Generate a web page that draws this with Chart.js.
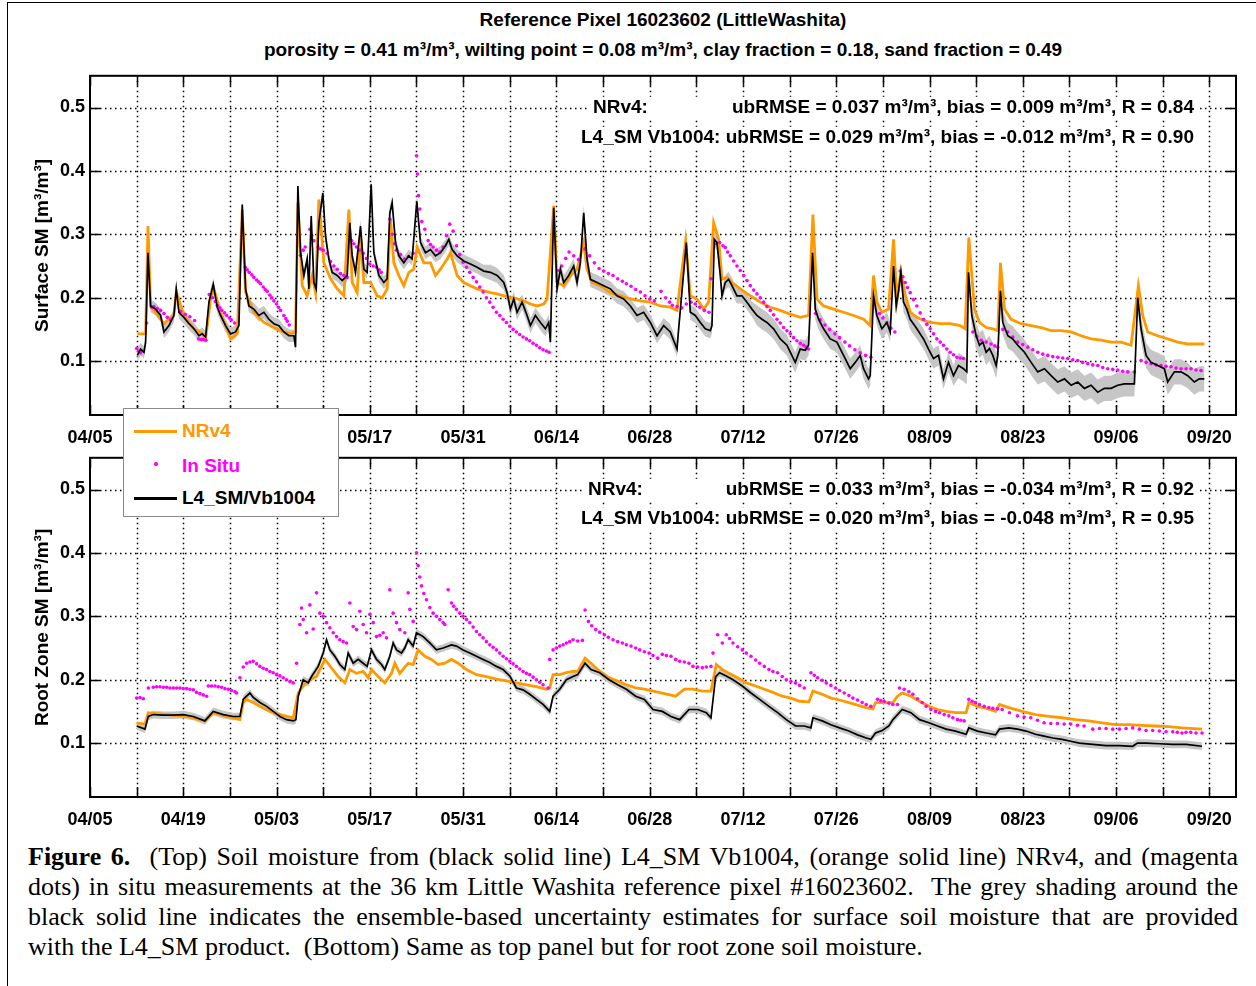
<!DOCTYPE html>
<html>
<head>
<meta charset="utf-8">
<script src="https://cdn.jsdelivr.net/npm/chart.js@4.4.1/dist/chart.umd.min.js"></script>
<style>
  html, body { margin: 0; padding: 0; background: #fff; }
  #page { position: relative; width: 1256px; height: 986px; overflow: hidden; font-family: "Liberation Sans", Arial, sans-serif; color: #000; }
  #border { position: absolute; left: 7px; top: 2px; width: 1400px; height: 1200px; border-left: 1.5px solid #000; border-top: 1.5px solid #000; }
  .head { position: absolute; left: 90px; width: 1146px; text-align: center; font-weight: bold; font-size: 19px; line-height: 22px; white-space: nowrap; }
  canvas { position: absolute; left: 0; }
  #legend { position: absolute; left: 123px; top: 408px; width: 214px; height: 107px; background: #fff; border: 1px solid #8a8a8a; z-index: 5; }
  #legend .ln { position: absolute; left: 10px; width: 43px; height: 2.5px; }
  #legend .tx { position: absolute; left: 58px; font-weight: bold; font-size: 19px; line-height: 22px; white-space: nowrap; }
  #legend .dot { position: absolute; left: 30px; width: 3.5px; height: 3.5px; border-radius: 50%; background: #ff00ff; }
  #caption { position: absolute; left: 28px; top: 842px; width: 1210px; transform-origin: 0 0; font-family: "Liberation Serif", "Times New Roman", serif; font-size: 26px; line-height: 30px; }
  #caption .j { text-align: justify; text-align-last: justify; }
  .probe { position: absolute; visibility: hidden; white-space: nowrap; font-family: "Liberation Serif", "Times New Roman", serif; font-size: 26px; }
</style>
</head>
<body>
<div id="page">
  <div id="border"></div>
  <div class="head" style="top:9px">Reference Pixel 16023602 (LittleWashita)</div>
  <div class="head" style="top:39px">porosity = 0.41 m³/m³, wilting point = 0.08 m³/m³, clay fraction = 0.18, sand fraction = 0.49</div>

  <canvas id="surface" width="1256" height="395" style="top:60px"></canvas>
  <canvas id="rootzone" width="1256" height="395" style="top:442px"></canvas>

  <div id="legend">
    <div class="ln" style="top:21px;background:#ff9900"></div>
    <div class="tx" style="top:11px;color:#ff9900">NRv4</div>
    <div class="dot" style="top:53px"></div>
    <div class="tx" style="top:46px;color:#ff00ff">In Situ</div>
    <div class="ln" style="top:88px;background:#000"></div>
    <div class="tx" style="top:78px">L4_SM/Vb1004</div>
  </div>

  <div id="caption">
    <div class="j"><b>Figure 6.</b>&nbsp; (Top) Soil moisture from (black solid line) L4_SM Vb1004, (orange solid line) NRv4, and (magenta</div>
    <div class="j">dots) in situ measurements at the 36 km Little Washita reference pixel #16023602.&nbsp; The grey shading around the</div>
    <div class="j">black solid line indicates the ensemble-based uncertainty estimates for surface soil moisture that are provided</div>
    <div>with the L4_SM product.&nbsp; (Bottom) Same as top panel but for root zone soil moisture.</div>
  </div>
</div>

<script>
// days counted from 04/05; labels every two weeks, grid every week
const xLabels = ['04/05', '04/19', '05/03', '05/17', '05/31', '06/14', '06/28', '07/12', '07/26', '08/09', '08/23', '09/06', '09/20'];
const yTicks = [0.1, 0.2, 0.3, 0.4, 0.5];

// surface soil moisture [day, m3/m3]
const surfL4 = [[7.1,0.109],[7.6,0.119],[8.1,0.114],[8.35,0.13],[8.7,0.271],[9.1,0.187],[9.85,0.182],[10.6,0.172],[11.1,0.146],[11.85,0.156],[12.6,0.172],[12.95,0.214],[13.35,0.177],[14.1,0.169],[14.85,0.159],[15.6,0.151],[16.35,0.14],[16.85,0.143],[17.35,0.138],[17.85,0.193],[18.5,0.221],[19.1,0.185],[19.6,0.172],[20.35,0.156],[21.1,0.143],[21.85,0.146],[22.35,0.156],[22.85,0.347],[23.35,0.214],[23.85,0.187],[24.6,0.182],[25.35,0.172],[26.1,0.177],[26.85,0.166],[27.6,0.159],[28.35,0.156],[29.1,0.146],[29.85,0.14],[30.6,0.14],[30.85,0.122],[31.2,0.376],[31.6,0.271],[32.1,0.235],[32.6,0.261],[32.85,0.214],[33.2,0.329],[33.6,0.224],[33.95,0.214],[34.35,0.318],[34.95,0.365],[35.35,0.297],[35.85,0.261],[36.35,0.24],[37.1,0.235],[37.85,0.227],[38.6,0.235],[39.0,0.318],[39.35,0.266],[39.85,0.24],[40.6,0.313],[41.1,0.245],[41.6,0.24],[42.2,0.379],[42.6,0.271],[43.35,0.235],[44.1,0.224],[44.6,0.23],[45.0,0.334],[45.35,0.35],[45.85,0.287],[46.35,0.266],[47.1,0.255],[47.85,0.266],[48.35,0.261],[49.05,0.352],[49.6,0.287],[50.35,0.271],[51.1,0.276],[51.85,0.266],[52.6,0.271],[53.35,0.282],[53.85,0.292],[54.35,0.276],[55.1,0.266],[56.1,0.258],[57.1,0.253],[58.1,0.248],[59.1,0.242],[60.1,0.24],[61.1,0.235],[62.1,0.224],[62.6,0.208],[63.1,0.182],[63.6,0.198],[64.1,0.177],[64.85,0.193],[65.6,0.172],[66.1,0.156],[66.85,0.172],[67.6,0.161],[68.35,0.151],[68.85,0.161],[69.1,0.13],[69.6,0.342],[70.1,0.214],[70.6,0.245],[71.1,0.224],[71.85,0.235],[72.6,0.25],[73.1,0.224],[73.6,0.255],[74.1,0.334],[74.6,0.261],[75.1,0.229],[76.1,0.224],[77.1,0.219],[78.1,0.214],[79.1,0.203],[80.1,0.198],[81.1,0.187],[82.1,0.172],[83.1,0.177],[84.1,0.161],[85.1,0.14],[86.1,0.156],[87.1,0.146],[88.1,0.119],[88.35,0.151],[89.5,0.287],[90.1,0.177],[90.85,0.172],[91.6,0.161],[92.35,0.151],[93.1,0.148],[93.35,0.156],[93.7,0.292],[94.1,0.287],[94.6,0.235],[94.85,0.203],[95.35,0.224],[95.85,0.229],[96.35,0.219],[97.1,0.203],[97.85,0.203],[98.6,0.193],[99.35,0.182],[100.1,0.172],[100.85,0.166],[101.6,0.161],[102.6,0.151],[103.6,0.135],[104.6,0.125],[105.1,0.114],[105.85,0.098],[106.6,0.119],[107.35,0.117],[107.85,0.125],[108.45,0.271],[108.85,0.182],[109.35,0.166],[110.1,0.151],[111.1,0.135],[112.1,0.13],[113.1,0.109],[114.1,0.088],[114.85,0.098],[115.6,0.109],[116.1,0.088],[116.85,0.072],[117.1,0.077],[117.6,0.203],[118.1,0.172],[118.85,0.151],[119.6,0.161],[120.1,0.146],[120.6,0.25],[121.0,0.187],[121.35,0.21],[121.7,0.24],[122.1,0.193],[122.6,0.182],[123.1,0.166],[124.1,0.151],[125.1,0.135],[125.85,0.119],[126.6,0.104],[127.35,0.109],[128.1,0.072],[128.85,0.098],[129.6,0.077],[130.35,0.093],[131.1,0.088],[131.6,0.083],[131.85,0.24],[132.35,0.172],[133.0,0.14],[133.5,0.125],[134.0,0.13],[134.5,0.114],[135.0,0.12],[135.5,0.109],[136.0,0.093],[136.25,0.109],[136.65,0.211],[137.0,0.161],[137.75,0.14],[138.5,0.135],[139.25,0.125],[140.25,0.114],[141.25,0.098],[142.25,0.083],[143.25,0.088],[144.25,0.077],[145.25,0.067],[146.25,0.072],[147.25,0.062],[148.25,0.067],[149.25,0.057],[150.25,0.062],[151.25,0.051],[152.25,0.057],[153.25,0.057],[154.25,0.062],[155.25,0.064],[156.75,0.064],[157.25,0.2],[157.75,0.151],[158.5,0.109],[159.25,0.098],[160.25,0.093],[161.25,0.088],[161.75,0.067],[162.75,0.083],[163.75,0.083],[164.75,0.077],[165.75,0.067],[166.5,0.072],[167.25,0.072]];

const surfNR = [[7.1,0.143],[8.35,0.143],[8.7,0.313],[9.1,0.187],[10.6,0.166],[11.1,0.159],[12.6,0.174],[12.95,0.209],[14.1,0.172],[15.6,0.151],[16.85,0.143],[17.35,0.135],[18.1,0.198],[18.6,0.214],[19.6,0.177],[21.1,0.135],[22.1,0.143],[22.85,0.339],[23.35,0.209],[24.6,0.177],[26.1,0.161],[27.6,0.153],[29.1,0.146],[30.1,0.143],[30.85,0.146],[31.2,0.35],[31.85,0.219],[32.6,0.203],[33.35,0.235],[33.85,0.208],[34.35,0.355],[35.1,0.255],[36.1,0.23],[37.1,0.214],[38.1,0.203],[38.85,0.339],[39.35,0.224],[40.1,0.208],[40.6,0.297],[41.1,0.224],[42.1,0.224],[43.1,0.203],[43.85,0.2],[44.6,0.214],[45.1,0.324],[45.6,0.255],[46.35,0.235],[47.1,0.219],[47.85,0.24],[48.6,0.245],[49.1,0.28],[50.1,0.255],[51.1,0.255],[51.85,0.235],[52.6,0.245],[53.6,0.261],[54.1,0.271],[55.1,0.235],[56.1,0.224],[57.1,0.219],[58.1,0.214],[59.1,0.211],[60.1,0.208],[61.1,0.206],[62.1,0.203],[63.1,0.2],[64.1,0.198],[65.1,0.195],[66.1,0.19],[67.1,0.187],[68.1,0.19],[68.6,0.198],[69.6,0.345],[70.1,0.224],[71.1,0.219],[72.1,0.235],[73.1,0.245],[74.1,0.287],[74.6,0.245],[75.35,0.224],[76.6,0.219],[78.1,0.208],[79.6,0.203],[81.1,0.198],[82.6,0.195],[84.1,0.193],[85.6,0.187],[87.1,0.185],[88.1,0.18],[89.4,0.29],[90.1,0.203],[91.1,0.198],[92.1,0.182],[92.85,0.193],[93.6,0.318],[94.35,0.292],[94.85,0.229],[95.6,0.232],[96.35,0.224],[97.6,0.214],[99.1,0.203],[100.6,0.193],[102.1,0.185],[103.6,0.18],[105.1,0.174],[106.6,0.169],[107.85,0.172],[108.5,0.331],[109.1,0.198],[110.1,0.187],[111.6,0.182],[113.1,0.177],[114.6,0.172],[116.1,0.166],[117.1,0.156],[117.6,0.235],[118.1,0.193],[118.85,0.177],[119.85,0.182],[120.6,0.292],[121.1,0.198],[121.7,0.24],[122.35,0.205],[123.1,0.177],[124.1,0.169],[125.1,0.164],[126.1,0.161],[127.6,0.159],[129.1,0.159],[130.6,0.156],[131.35,0.151],[131.9,0.295],[132.75,0.182],[133.5,0.161],[134.5,0.153],[135.5,0.151],[136.25,0.148],[136.65,0.255],[137.25,0.182],[138.25,0.166],[139.75,0.159],[141.25,0.156],[142.75,0.153],[144.25,0.148],[145.75,0.148],[147.25,0.146],[148.75,0.14],[150.25,0.135],[151.75,0.133],[153.25,0.13],[154.75,0.13],[156.25,0.125],[157.35,0.219],[158.0,0.172],[158.75,0.146],[160.25,0.14],[161.75,0.135],[163.25,0.13],[164.75,0.127],[166.25,0.127],[167.25,0.127]];

const surfSitu = [[7.0,0.12],[7.3,0.116],[7.6,0.113],[8.5,0.16],[9.25,0.185],[9.6,0.186],[10.1,0.183],[10.6,0.18],[11.1,0.175],[11.6,0.169],[12.1,0.165],[13.6,0.178],[14.3,0.174],[15.0,0.17],[15.7,0.164],[16.3,0.135],[16.7,0.134],[17.0,0.134],[17.4,0.133],[17.9,0.205],[18.4,0.2],[18.8,0.194],[19.1,0.188],[19.5,0.184],[19.8,0.18],[20.2,0.176],[20.5,0.172],[20.9,0.168],[21.2,0.165],[21.7,0.16],[23.3,0.248],[23.6,0.244],[23.9,0.24],[24.3,0.236],[24.6,0.232],[25.0,0.228],[25.3,0.225],[25.6,0.222],[26.0,0.217],[26.3,0.213],[26.6,0.21],[27.0,0.204],[27.3,0.2],[27.6,0.195],[28.0,0.19],[28.3,0.185],[28.6,0.18],[29.1,0.172],[29.4,0.167],[29.6,0.163],[29.9,0.157],[31.6,0.267],[32.0,0.275],[32.3,0.28],[33.0,0.308],[33.3,0.298],[33.6,0.29],[34.2,0.28],[34.6,0.277],[35.0,0.275],[35.6,0.27],[36.1,0.257],[36.6,0.25],[37.1,0.245],[37.6,0.238],[38.1,0.235],[38.6,0.232],[39.25,0.29],[39.6,0.285],[40.0,0.28],[40.5,0.275],[41.0,0.27],[41.5,0.262],[42.0,0.253],[42.5,0.25],[43.0,0.248],[43.4,0.244],[43.7,0.24],[45.0,0.324],[45.4,0.3],[45.7,0.285],[46.0,0.275],[46.6,0.268],[47.2,0.261],[47.8,0.265],[48.5,0.27],[49.0,0.424],[49.15,0.395],[49.3,0.361],[49.5,0.34],[49.8,0.32],[50.25,0.308],[50.75,0.29],[51.1,0.284],[51.5,0.28],[52.0,0.275],[52.5,0.272],[53.0,0.28],[53.5,0.298],[54.0,0.316],[54.5,0.305],[55.0,0.282],[55.5,0.268],[56.0,0.256],[56.5,0.248],[57.0,0.24],[57.5,0.232],[58.0,0.225],[58.5,0.217],[59.0,0.209],[59.5,0.2],[60.0,0.193],[60.5,0.185],[61.0,0.177],[61.5,0.172],[62.0,0.166],[62.5,0.161],[63.0,0.155],[63.5,0.15],[64.0,0.146],[64.5,0.142],[65.0,0.138],[65.5,0.135],[66.0,0.132],[66.5,0.128],[67.0,0.125],[67.5,0.121],[68.0,0.118],[68.5,0.116],[68.9,0.114],[70.2,0.243],[70.8,0.25],[71.4,0.262],[71.9,0.272],[72.6,0.266],[73.3,0.26],[74.3,0.277],[75.0,0.266],[75.7,0.255],[76.4,0.246],[77.1,0.242],[77.8,0.238],[78.5,0.235],[79.2,0.23],[79.9,0.226],[80.5,0.222],[81.2,0.218],[81.9,0.213],[82.6,0.209],[83.3,0.203],[84.0,0.198],[84.7,0.195],[85.7,0.21],[86.4,0.2],[87.0,0.193],[87.4,0.188],[88.1,0.186],[88.8,0.184],[89.5,0.19],[90.2,0.193],[90.85,0.19],[91.5,0.185],[92.2,0.18],[92.9,0.177],[93.2,0.23],[94.0,0.285],[94.5,0.287],[95.0,0.282],[95.35,0.279],[95.7,0.272],[96.1,0.266],[96.6,0.258],[97.1,0.25],[97.6,0.243],[98.1,0.235],[98.6,0.227],[99.1,0.219],[99.6,0.212],[100.1,0.206],[100.6,0.2],[101.1,0.193],[101.6,0.186],[102.1,0.18],[102.6,0.173],[103.1,0.166],[103.6,0.16],[104.1,0.153],[104.6,0.148],[105.1,0.143],[105.6,0.137],[106.1,0.132],[106.6,0.128],[107.1,0.125],[107.5,0.122],[107.85,0.119],[108.9,0.175],[109.6,0.165],[110.3,0.157],[111.0,0.15],[111.8,0.143],[112.5,0.137],[113.3,0.13],[114.0,0.124],[114.8,0.118],[115.6,0.113],[116.4,0.109],[117.2,0.106],[118.5,0.175],[119.0,0.168],[119.6,0.16],[120.2,0.152],[120.8,0.146],[121.6,0.242],[122.0,0.233],[122.35,0.224],[122.7,0.216],[123.1,0.208],[123.6,0.197],[124.1,0.187],[124.6,0.176],[125.1,0.166],[125.6,0.158],[126.1,0.151],[126.6,0.143],[127.1,0.135],[127.6,0.13],[128.1,0.125],[128.6,0.119],[129.1,0.114],[129.6,0.11],[130.1,0.106],[130.6,0.105],[131.1,0.104],[132.5,0.146],[133.1,0.139],[133.75,0.133],[134.5,0.13],[135.25,0.127],[135.8,0.124],[136.25,0.122],[137.0,0.15],[137.75,0.146],[138.5,0.138],[139.25,0.13],[140.0,0.126],[140.75,0.122],[141.5,0.118],[142.25,0.114],[143.0,0.111],[143.75,0.109],[144.5,0.107],[145.25,0.106],[146.0,0.105],[146.75,0.104],[147.5,0.102],[148.25,0.101],[149.0,0.098],[149.75,0.096],[150.5,0.094],[151.25,0.093],[152.0,0.09],[152.75,0.088],[153.5,0.087],[154.25,0.086],[155.0,0.084],[155.75,0.083],[156.75,0.083],[157.75,0.101],[158.5,0.098],[159.25,0.096],[160.0,0.094],[160.75,0.093],[161.5,0.092],[162.25,0.091],[163.0,0.089],[163.75,0.088],[164.5,0.088],[165.25,0.088],[166.0,0.086],[166.75,0.085]];

// half-width of the grey ensemble band: [from day, spread]
const surfSpread = [[0, 0.010], [60, 0.012], [100, 0.016], [130, 0.020]];

// root zone soil moisture [day, m3/m3]
const rootL4 = [[7.0,0.127],[8.25,0.122],[8.75,0.142],[9.5,0.145],[11.0,0.144],[12.5,0.144],[14.0,0.145],[15.5,0.142],[17.25,0.135],[18.5,0.15],[20.0,0.145],[21.5,0.142],[22.5,0.142],[23.0,0.169],[23.5,0.174],[24.0,0.179],[24.5,0.172],[25.5,0.164],[26.5,0.158],[27.5,0.15],[28.5,0.142],[29.5,0.137],[30.5,0.135],[30.9,0.137],[31.25,0.174],[32.0,0.2],[32.75,0.195],[33.25,0.205],[34.25,0.221],[35.0,0.242],[35.5,0.263],[36.0,0.247],[36.75,0.237],[37.5,0.224],[38.25,0.216],[38.75,0.242],[39.5,0.226],[40.25,0.232],[41.0,0.226],[41.6,0.221],[42.25,0.247],[43.0,0.232],[43.75,0.224],[44.25,0.216],[45.0,0.237],[45.5,0.258],[46.0,0.247],[46.75,0.242],[47.25,0.25],[47.75,0.263],[48.5,0.253],[49.0,0.274],[50.0,0.268],[51.0,0.258],[52.0,0.247],[53.0,0.25],[54.25,0.255],[55.0,0.253],[56.0,0.247],[57.0,0.242],[58.0,0.237],[59.0,0.232],[60.0,0.227],[61.0,0.221],[62.0,0.216],[63.0,0.206],[64.0,0.187],[65.0,0.184],[66.0,0.177],[67.0,0.169],[68.0,0.161],[69.0,0.15],[69.5,0.174],[70.5,0.185],[71.5,0.2],[72.5,0.205],[73.2,0.208],[74.3,0.226],[75.2,0.216],[76.5,0.211],[77.9,0.2],[79.2,0.192],[80.5,0.185],[81.9,0.174],[83.2,0.169],[84.5,0.153],[85.9,0.15],[87.2,0.142],[88.5,0.137],[89.9,0.153],[91.2,0.153],[92.5,0.148],[93.2,0.14],[93.9,0.205],[94.5,0.211],[95.5,0.206],[96.5,0.2],[97.9,0.19],[99.2,0.179],[100.5,0.169],[101.9,0.158],[103.2,0.148],[104.5,0.137],[105.9,0.127],[107.2,0.127],[108.2,0.124],[108.5,0.14],[109.9,0.135],[111.2,0.129],[112.5,0.124],[113.9,0.119],[115.2,0.113],[116.5,0.108],[117.2,0.106],[117.9,0.116],[118.9,0.12],[119.9,0.127],[120.5,0.137],[121.9,0.153],[123.2,0.148],[124.5,0.137],[125.9,0.132],[127.2,0.127],[128.5,0.122],[129.9,0.119],[131.5,0.114],[131.9,0.124],[133.2,0.119],[134.5,0.116],[135.9,0.113],[136.5,0.122],[137.9,0.124],[139.2,0.122],[140.5,0.119],[141.9,0.114],[143.2,0.111],[144.5,0.108],[145.9,0.106],[147.2,0.103],[148.5,0.1],[150.5,0.098],[152.5,0.096],[154.5,0.096],[156.5,0.095],[157.2,0.1],[158.5,0.1],[160.5,0.099],[162.5,0.098],[164.5,0.098],[166.9,0.095]];

const rootNR = [[7.0,0.132],[8.25,0.13],[8.75,0.148],[10.5,0.146],[12.5,0.144],[14.5,0.142],[17.25,0.135],[18.5,0.148],[20.5,0.142],[22.5,0.137],[23.0,0.164],[23.5,0.169],[24.5,0.164],[25.5,0.158],[27.0,0.15],[28.5,0.145],[30.5,0.14],[31.25,0.179],[32.0,0.19],[33.0,0.2],[34.0,0.205],[35.25,0.232],[36.0,0.222],[37.25,0.205],[38.25,0.195],[39.0,0.216],[40.0,0.21],[41.0,0.213],[41.75,0.203],[42.25,0.216],[43.25,0.205],[44.25,0.195],[45.25,0.21],[45.75,0.226],[46.5,0.21],[47.25,0.22],[47.75,0.226],[48.5,0.224],[49.25,0.247],[50.25,0.237],[51.25,0.232],[52.25,0.224],[53.25,0.226],[54.25,0.232],[55.25,0.226],[56.5,0.216],[58.0,0.208],[59.5,0.205],[61.0,0.201],[62.5,0.198],[64.0,0.195],[65.5,0.192],[67.0,0.189],[68.5,0.185],[69.0,0.187],[69.5,0.208],[70.5,0.208],[71.5,0.211],[72.5,0.213],[73.2,0.213],[74.3,0.234],[75.2,0.226],[76.5,0.213],[77.9,0.203],[79.2,0.198],[80.5,0.192],[81.9,0.187],[83.2,0.185],[84.5,0.182],[85.9,0.179],[87.9,0.174],[89.2,0.185],[90.5,0.185],[91.9,0.182],[93.2,0.182],[94.0,0.224],[94.9,0.216],[95.9,0.21],[97.2,0.203],[98.5,0.195],[99.9,0.19],[101.2,0.185],[102.5,0.18],[103.9,0.174],[105.2,0.171],[106.5,0.166],[107.9,0.165],[108.5,0.182],[109.9,0.177],[111.2,0.171],[112.5,0.168],[113.9,0.164],[115.2,0.16],[116.5,0.156],[117.5,0.154],[117.9,0.164],[119.2,0.164],[120.5,0.164],[121.2,0.174],[121.9,0.179],[123.2,0.174],[124.5,0.166],[125.9,0.158],[127.2,0.153],[128.5,0.15],[129.9,0.148],[131.5,0.148],[131.9,0.164],[133.2,0.158],[134.5,0.155],[135.9,0.15],[136.5,0.161],[137.9,0.156],[139.9,0.15],[141.9,0.145],[143.9,0.142],[145.9,0.14],[147.9,0.137],[149.9,0.135],[151.9,0.132],[153.9,0.129],[155.9,0.129],[157.9,0.128],[159.9,0.127],[161.9,0.126],[163.9,0.124],[166.9,0.122]];

const rootSitu = [[7.0,0.171],[7.5,0.172],[8.0,0.17],[8.75,0.187],[9.5,0.188],[10.0,0.189],[10.5,0.189],[11.0,0.188],[11.5,0.188],[12.0,0.187],[12.5,0.187],[13.0,0.187],[13.5,0.187],[14.0,0.186],[14.5,0.186],[15.0,0.185],[15.5,0.184],[16.0,0.18],[16.5,0.178],[17.0,0.176],[17.5,0.174],[17.75,0.19],[18.25,0.19],[18.75,0.19],[19.25,0.189],[19.75,0.188],[20.25,0.186],[20.75,0.185],[21.25,0.183],[21.75,0.181],[22.0,0.179],[22.5,0.203],[23.0,0.22],[23.5,0.226],[24.0,0.228],[24.5,0.229],[25.0,0.225],[25.5,0.221],[26.0,0.218],[26.5,0.216],[27.0,0.213],[27.5,0.211],[28.0,0.208],[28.5,0.206],[29.0,0.203],[29.5,0.2],[30.0,0.197],[30.5,0.195],[31.0,0.226],[31.5,0.287],[31.75,0.313],[32.0,0.295],[32.5,0.274],[33.0,0.318],[33.5,0.28],[34.0,0.337],[34.5,0.305],[35.0,0.3],[35.5,0.29],[36.0,0.282],[36.5,0.274],[37.0,0.268],[37.5,0.263],[38.0,0.26],[38.5,0.258],[39.0,0.321],[39.5,0.284],[40.0,0.279],[40.5,0.308],[41.0,0.287],[41.5,0.274],[42.0,0.303],[42.5,0.29],[43.0,0.268],[43.5,0.27],[44.0,0.274],[44.5,0.266],[45.0,0.342],[45.5,0.305],[46.0,0.29],[46.5,0.279],[47.25,0.274],[47.75,0.337],[48.0,0.311],[48.5,0.292],[49.0,0.4],[49.25,0.38],[49.5,0.362],[49.75,0.348],[50.1,0.336],[50.5,0.326],[51.0,0.314],[51.5,0.305],[52.0,0.3],[52.5,0.295],[53.0,0.29],[53.25,0.287],[53.75,0.342],[54.25,0.321],[54.6,0.316],[55.0,0.311],[55.5,0.305],[56.0,0.3],[56.5,0.295],[57.0,0.29],[57.5,0.283],[58.0,0.276],[58.5,0.271],[59.0,0.266],[59.5,0.26],[60.0,0.255],[60.5,0.251],[61.0,0.247],[61.5,0.242],[62.0,0.237],[62.5,0.233],[63.0,0.229],[63.5,0.225],[64.0,0.221],[64.5,0.217],[65.0,0.213],[65.5,0.21],[66.0,0.208],[66.5,0.204],[67.0,0.2],[67.5,0.196],[68.0,0.192],[68.75,0.187],[69.0,0.232],[69.5,0.247],[70.0,0.25],[70.5,0.253],[71.0,0.255],[71.5,0.258],[72.0,0.26],[72.5,0.263],[73.2,0.261],[73.9,0.262],[74.3,0.31],[74.8,0.292],[75.3,0.285],[75.9,0.279],[76.5,0.275],[77.2,0.271],[77.8,0.267],[78.5,0.263],[79.2,0.26],[79.9,0.258],[80.5,0.255],[81.2,0.253],[81.9,0.25],[82.5,0.247],[83.2,0.244],[83.9,0.242],[84.5,0.238],[85.2,0.234],[85.9,0.24],[86.5,0.238],[87.2,0.237],[87.9,0.232],[88.5,0.229],[89.2,0.228],[89.9,0.226],[90.5,0.221],[91.2,0.22],[91.9,0.219],[92.5,0.22],[93.2,0.221],[93.5,0.242],[94.2,0.271],[94.9,0.258],[95.5,0.271],[96.0,0.265],[96.5,0.258],[97.2,0.252],[97.9,0.247],[98.5,0.242],[99.2,0.237],[99.9,0.231],[100.5,0.226],[101.2,0.221],[101.9,0.216],[102.5,0.213],[103.2,0.211],[103.9,0.205],[104.5,0.2],[105.2,0.197],[105.9,0.195],[106.5,0.191],[107.2,0.187],[108.2,0.211],[108.7,0.207],[109.2,0.203],[109.9,0.199],[110.5,0.195],[111.2,0.191],[111.9,0.187],[112.5,0.183],[113.2,0.179],[113.9,0.175],[114.5,0.171],[115.2,0.168],[115.9,0.164],[116.5,0.161],[117.2,0.158],[118.2,0.169],[118.7,0.167],[119.2,0.166],[119.9,0.163],[120.5,0.161],[121.2,0.161],[121.5,0.187],[122.2,0.185],[122.9,0.181],[123.5,0.177],[124.2,0.17],[124.9,0.164],[125.5,0.158],[126.2,0.153],[126.9,0.15],[127.5,0.148],[128.2,0.145],[128.9,0.143],[129.5,0.14],[130.2,0.137],[130.7,0.136],[131.2,0.135],[131.9,0.169],[132.4,0.166],[132.9,0.164],[133.5,0.161],[134.2,0.158],[134.9,0.156],[135.5,0.155],[136.2,0.154],[136.9,0.153],[138.0,0.148],[139.2,0.143],[140.2,0.141],[141.2,0.14],[142.2,0.136],[143.2,0.132],[144.2,0.131],[145.2,0.131],[146.2,0.13],[147.2,0.13],[148.2,0.128],[149.2,0.127],[150.5,0.122],[151.5,0.123],[152.5,0.123],[153.5,0.122],[154.5,0.122],[155.5,0.123],[156.5,0.124],[157.5,0.122],[158.5,0.12],[159.5,0.12],[160.5,0.119],[161.5,0.118],[162.5,0.118],[163.2,0.117],[163.9,0.116],[164.5,0.117],[165.2,0.117],[166.0,0.116],[166.9,0.116]];

const rootSpread = [[0, 0.006]];

const ORANGE = '#ff9900', MAGENTA = '#ff00ff', BAND = '#c6c6c6';
const FONT = '"Liberation Sans", Arial, sans-serif';

Chart.defaults.font.family = FONT;
Chart.defaults.color = '#000';

function pts(arr) { return arr.map(([x, y]) => ({ x, y })); }

function spreadAt(table, d) {
  let s = table[0][1];
  table.forEach(([from, v]) => { if (d >= from) s = v; });
  return s;
}

function band(arr, table, sign) {
  return arr.map(([x, y]) => ({ x, y: y + sign * spreadAt(table, x) }));
}

// dotted grid, inward ticks, box frame and the statistics text
const axesBox = {
  id: 'axesBox',
  beforeDatasetsDraw(chart) {
    const { ctx, chartArea: a, scales: { x, y } } = chart;
    ctx.save();
    ctx.strokeStyle = '#000';
    ctx.lineWidth = 1.5;
    ctx.setLineDash([1.5, 3.5]);
    ctx.beginPath();
    x.ticks.forEach(t => {
      const px = Math.round(x.getPixelForValue(t.value)) + 0.5;
      if (px < a.left + 2 || px > a.right - 2) return;
      ctx.moveTo(px, a.top); ctx.lineTo(px, a.bottom);
    });
    y.ticks.forEach(t => {
      const py = Math.round(y.getPixelForValue(t.value)) + 0.5;
      ctx.moveTo(a.left, py); ctx.lineTo(a.right, py);
    });
    ctx.stroke();
    ctx.restore();
  },
  afterDatasetsDraw(chart, args, opts) {
    const { ctx, chartArea: a, scales: { x, y } } = chart;
    ctx.save();
    ctx.strokeStyle = '#000';
    ctx.lineWidth = 1.5;
    ctx.beginPath();
    x.ticks.forEach(t => {
      const px = Math.round(x.getPixelForValue(t.value)) + 0.5;
      ctx.moveTo(px, a.bottom); ctx.lineTo(px, a.bottom - 10);
      ctx.moveTo(px, a.top); ctx.lineTo(px, a.top + 10);
    });
    y.ticks.forEach(t => {
      const py = Math.round(y.getPixelForValue(t.value)) + 0.5;
      ctx.moveTo(a.left, py); ctx.lineTo(a.left + 10, py);
      ctx.moveTo(a.right, py); ctx.lineTo(a.right - 10, py);
    });
    ctx.stroke();
    ctx.lineWidth = 2;
    ctx.strokeRect(a.left, a.top, a.right - a.left, a.bottom - a.top);

    ctx.font = 'bold 19px ' + FONT;
    ctx.textBaseline = 'middle';
    const right = a.right - 42;
    (opts.stats || []).forEach(s => {
      const yy = a.top + s.dy;
      const w = ctx.measureText(s.text).width;
      const left = s.label ? a.left + s.labelX : right - w;
      ctx.fillStyle = '#fff';
      ctx.fillRect(left - 3, yy - 11, right - left + 6, 22);
      ctx.fillStyle = '#000';
      ctx.textAlign = 'right';
      ctx.fillText(s.text, right, yy);
      if (s.label) {
        ctx.textAlign = 'left';
        ctx.fillText(s.label, a.left + s.labelX, yy);
      }
    });
    ctx.restore();
  }
};

function makePanel(id, title, l4, nr, situ, spread, stats) {
  return new Chart(document.getElementById(id), {
    type: 'line',
    data: {
      datasets: [
        { data: pts(l4), borderColor: '#000', borderWidth: 1.7, pointRadius: 0, order: 0 },
        { data: pts(situ), showLine: false, pointRadius: 1.8, pointBorderWidth: 0, pointBackgroundColor: MAGENTA, order: 1 },
        { data: pts(nr), borderColor: ORANGE, borderWidth: 2.8, pointRadius: 0, order: 2 },
        { data: band(l4, spread, 1), borderWidth: 0, pointRadius: 0, backgroundColor: BAND, fill: '+1', order: 3 },
        { data: band(l4, spread, -1), borderWidth: 0, pointRadius: 0, fill: false, order: 4 }
      ]
    },
    options: {
      responsive: false,
      animation: false,
      layout: { padding: { top: 13, right: 20, left: 0, bottom: 0 } },
      plugins: {
        legend: { display: false },
        tooltip: { enabled: false },
        axesBox: { stats }
      },
      scales: {
        x: {
          type: 'linear',
          min: 0,
          max: 172,
          grid: { display: false },
          border: { display: false },
          afterBuildTicks: s => { s.ticks = xLabels.flatMap((_, i) => i < xLabels.length - 1 ? [{ value: i * 14 }, { value: i * 14 + 7 }] : [{ value: i * 14 }]); },
          afterFit: s => { s.height = 40; },
          ticks: {
            autoSkip: false,
            maxRotation: 0,
            padding: 4,
            font: { size: 18, weight: 'bold' },
            callback: v => (v % 14 === 0 ? xLabels[v / 14] : '')
          }
        },
        y: {
          min: 0.015,
          max: 0.55,
          grid: { display: false, drawTicks: false },
          border: { display: false },
          afterBuildTicks: s => { s.ticks = yTicks.map(v => ({ value: v })); },
          afterFit: s => { s.width = 90; },
          ticks: {
            padding: 5,
            font: { size: 18, weight: 'bold' },
            callback: v => v.toFixed(1)
          },
          title: {
            display: true,
            text: title,
            font: { size: 19, weight: 'bold' },
            padding: { top: 31 }
          }
        }
      }
    },
    plugins: [axesBox]
  });
}

makePanel('surface', 'Surface SM [m³/m³]', surfL4, surfNR, surfSitu, surfSpread, [
  { label: 'NRv4:', labelX: 503, text: 'ubRMSE = 0.037 m³/m³, bias = 0.009 m³/m³, R = 0.84', dy: 32 },
  { text: 'L4_SM Vb1004: ubRMSE = 0.029 m³/m³, bias = -0.012 m³/m³, R = 0.90', dy: 62 }
]);

makePanel('rootzone', 'Root Zone SM [m³/m³]', rootL4, rootNR, rootSitu, rootSpread, [
  { label: 'NRv4:', labelX: 498, text: 'ubRMSE = 0.033 m³/m³, bias = -0.034 m³/m³, R = 0.92', dy: 32 },
  { text: 'L4_SM Vb1004: ubRMSE = 0.020 m³/m³, bias = -0.048 m³/m³, R = 0.95', dy: 61 }
]);

// caption: narrow the serif text so the longest justified line fits the column
(function fitCaption() {
  const cap = document.getElementById('caption');
  let widest = 0;
  cap.querySelectorAll('.j').forEach(line => {
    const probe = document.createElement('span');
    probe.className = 'probe';
    probe.innerHTML = line.innerHTML;
    document.body.appendChild(probe);
    widest = Math.max(widest, probe.getBoundingClientRect().width);
    probe.remove();
  });
  const s = Math.min(1, 1206 / widest);
  cap.style.width = (1210 / s) + 'px';
  cap.style.transform = 'scaleX(' + s + ')';
})();
</script>
</body>
</html>
